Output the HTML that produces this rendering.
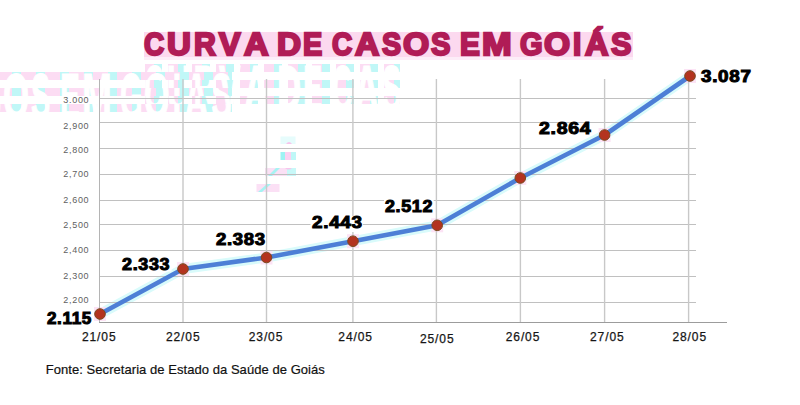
<!DOCTYPE html>
<html><head><meta charset="utf-8"><style>
html,body{margin:0;padding:0;background:#fff;}
body{width:800px;height:405px;position:relative;overflow:hidden;font-family:"Liberation Sans",sans-serif;}
.a{position:absolute;white-space:nowrap;line-height:1;}
#title span{position:absolute;top:27.5px;font-size:32px;font-weight:bold;color:#b01c56;-webkit-text-stroke:2.3px #b01c56;transform-origin:0 0;line-height:1;white-space:nowrap;}
.yl{font-size:9px;color:#606060;text-align:right;width:40px;left:49.3px;letter-spacing:0.7px;}
.xl{font-size:12px;color:#161616;width:60px;text-align:center;letter-spacing:0.9px;top:330.8px;-webkit-text-stroke:0.25px #161616;}
.v{font-size:16.5px;font-weight:bold;color:#000;letter-spacing:0.6px;-webkit-text-stroke:1px #000;transform-origin:0 0;}
#src{left:45.8px;top:362.6px;font-size:13px;color:#111;letter-spacing:0.05px;-webkit-text-stroke:0.2px #111;}
</style></head><body>
<div style="position:absolute;left:144px;top:31.5px;width:489px;height:25px;background:#fcd9ef"></div>
<div style="position:absolute;left:144px;top:56.5px;width:489px;height:3.5px;background:#fdedf8"></div>
<div id="title">
<span style="left:144.1px;transform:scaleX(0.875)">C</span>
<span style="left:166.8px;transform:scaleX(1.033)">U</span>
<span style="left:193.5px;transform:scaleX(0.943)">R</span>
<span style="left:219.0px;transform:scaleX(1.008)">V</span>
<span style="left:244.0px;transform:scaleX(1.064)">A</span>
<span style="left:277.1px;transform:scaleX(1.041)">D</span>
<span style="left:303.1px;transform:scaleX(0.900)">E</span>
<span style="left:332.1px;transform:scaleX(0.875)">C</span>
<span style="left:354.6px;transform:scaleX(1.052)">A</span>
<span style="left:382.1px;transform:scaleX(0.895)">S</span>
<span style="left:403.1px;transform:scaleX(1.052)">O</span>
<span style="left:431.0px;transform:scaleX(0.910)">S</span>
<span style="left:460.1px;transform:scaleX(0.930)">E</span>
<span style="left:482.0px;transform:scaleX(1.112)">M</span>
<span style="left:520.1px;transform:scaleX(0.908)">G</span>
<span style="left:543.8px;transform:scaleX(1.048)">O</span>
<span style="left:572.8px;transform:scaleX(0.929)">I</span>
<span style="left:584.7px;transform:scaleX(1.016)">Á</span>
<span style="left:611.3px;transform:scaleX(0.957)">S</span>
</div>
<svg width="800" height="405" style="position:absolute;left:0;top:0">
<defs>
<pattern id="gp" width="24" height="8" patternUnits="userSpaceOnUse"><rect width="24" height="8" fill="#fff"/><rect width="10" height="8" fill="#fcdcf3"/><rect x="10" width="8" height="8" fill="#c0f7f7"/></pattern>
<pattern id="gq" width="24" height="8" patternUnits="userSpaceOnUse" x="12"><rect width="24" height="8" fill="#fcdcf3"/><rect width="9" height="8" fill="#c0f7f7"/></pattern>
<clipPath id="cR"><rect x="145" y="64" width="255" height="8"/><rect x="145" y="80" width="255" height="8"/><rect x="145" y="96" width="255" height="8"/></clipPath>
<clipPath id="cL"><rect x="0" y="72" width="232" height="8"/><rect x="0" y="88" width="232" height="8"/><rect x="0" y="104" width="232" height="8"/></clipPath>
</defs>
<g clip-path="url(#cR)"><rect x="145" y="64" width="255" height="56" fill="url(#gp)"/>
<g fill="#fff" stroke="#fff" stroke-width="0.6" font-family="Liberation Sans" font-weight="bold" font-size="32"><text transform="translate(144.1,111) scale(0.875,2)">C</text><text transform="translate(166.8,111) scale(1.033,2)">U</text><text transform="translate(193.5,111) scale(0.943,2)">R</text><text transform="translate(219.0,111) scale(1.008,2)">V</text><text transform="translate(244.0,111) scale(1.064,2)">A</text><text transform="translate(277.1,111) scale(1.041,2)">D</text><text transform="translate(303.1,111) scale(0.900,2)">E</text><text transform="translate(332.1,111) scale(0.875,2)">C</text><text transform="translate(354.6,111) scale(1.052,2)">A</text><text transform="translate(382.1,111) scale(0.895,2)">S</text></g></g>
<g clip-path="url(#cL)"><rect x="0" y="72" width="232" height="52" fill="url(#gq)"/>
<g fill="#fff" stroke="#fff" stroke-width="0.6" font-family="Liberation Sans" font-weight="bold" font-size="32"><text transform="translate(-17.9,119) scale(0.895,2)">S</text><text transform="translate(3.1,119) scale(1.052,2)">O</text><text transform="translate(31.0,119) scale(0.910,2)">S</text><text transform="translate(60.1,119) scale(0.930,2)">E</text><text transform="translate(82.0,119) scale(1.112,2)">M</text><text transform="translate(120.1,119) scale(0.908,2)">G</text><text transform="translate(143.8,119) scale(1.048,2)">O</text><text transform="translate(172.8,119) scale(0.929,2)">I</text><text transform="translate(184.7,119) scale(1.016,2)">Á</text><text transform="translate(211.3,119) scale(0.957,2)">S</text></g></g>
<g>
<rect x="280.5" y="136.5" width="15" height="7.5" fill="#e6fcfc"/><path d="M286 144 Q289 140 292 144 Z" fill="#f7c4ec"/>
<rect x="280.5" y="152" width="4.5" height="8" fill="#9ef3f3"/><rect x="285" y="152" width="6" height="8" fill="#fbd2f1"/><rect x="291" y="152" width="5" height="8" fill="#bff7f7"/>
<rect x="265" y="168" width="22" height="8" fill="#fbe0f5"/><rect x="287" y="168" width="9" height="8" fill="#c8f8f8"/><path d="M268 176 L276 168 L280 168 L272 176 Z" fill="#a6f3f3"/><path d="M285 168 Q288.5 171 292 168 Z" fill="#f7c4ec"/>
<rect x="256.5" y="184" width="23" height="8" fill="#fbe0f5"/><path d="M258 192 L267 184 L271 184 L262 192 Z" fill="#a6f3f3"/>
</g>
</svg>
<svg width="800" height="405" style="position:absolute;left:0;top:0">
<polyline fill="none" stroke="#d9fbfb" stroke-width="10" stroke-linejoin="round" points="100,314 183,269 266.5,257.5 353,241.2 437.2,225.3 520.3,178 604.6,135 690,76"/>
<g fill="#fce3f5"><rect x="94.0" y="307.0" width="12" height="14"/><rect x="177.0" y="262.0" width="12" height="14"/><rect x="260.5" y="250.5" width="12" height="14"/><rect x="347.0" y="234.2" width="12" height="14"/><rect x="431.2" y="218.3" width="12" height="14"/><rect x="514.3" y="171.0" width="12" height="14"/><rect x="598.6" y="128.0" width="12" height="14"/><rect x="684.0" y="69.0" width="12" height="14"/></g>
<g stroke="#c0c0c0" stroke-width="1" shape-rendering="crispEdges"><line x1="99" y1="98.5" x2="696" y2="98.5"/><line x1="99" y1="122.5" x2="696" y2="122.5"/><line x1="99" y1="148.5" x2="696" y2="148.5"/><line x1="99" y1="174.5" x2="696" y2="174.5"/><line x1="99" y1="200.5" x2="696" y2="200.5"/><line x1="99" y1="224.5" x2="696" y2="224.5"/><line x1="99" y1="250.5" x2="696" y2="250.5"/><line x1="99" y1="276.5" x2="696" y2="276.5"/><line x1="99" y1="302.5" x2="696" y2="302.5"/></g>
<line x1="99.5" y1="79" x2="99.5" y2="322" stroke="#b4b4b4" stroke-width="1" shape-rendering="crispEdges"/>
<g stroke="#c8c8c8" stroke-width="1.4"><line x1="183.0" y1="79" x2="183.0" y2="322"/><line x1="266.5" y1="79" x2="266.5" y2="322"/><line x1="352.9" y1="79" x2="352.9" y2="322"/><line x1="436.4" y1="79" x2="436.4" y2="322"/><line x1="520.4" y1="79" x2="520.4" y2="322"/><line x1="604.6" y1="79" x2="604.6" y2="322"/><line x1="688.6" y1="79" x2="688.6" y2="322"/></g>
<line x1="99" y1="322.5" x2="727" y2="322.5" stroke="#9c9c9c" stroke-width="1.2" shape-rendering="crispEdges"/>
<g fill="#fff"><rect x="45.5" y="311.5" width="46.5" height="13"/><rect x="121.5" y="258" width="50" height="13.5"/><rect x="214.5" y="232.5" width="51.5" height="13"/><rect x="310.5" y="216" width="52.5" height="16"/><rect x="384" y="199.5" width="49.7" height="13"/><rect x="538" y="123" width="54.5" height="12.5"/><rect x="699.5" y="69.5" width="52.5" height="13"/></g>
<polyline fill="none" stroke="#4d7fd6" stroke-width="4.6" stroke-linejoin="round" points="100,314 183,269 266.5,257.5 353,241.2 437.2,225.3 520.3,178 604.6,135 690,76"/>
<g fill="#b3331f" stroke="#7a4a1e" stroke-width="1"><circle cx="100" cy="314" r="5.3"/><circle cx="183" cy="269" r="5.3"/><circle cx="266.5" cy="257.5" r="5.3"/><circle cx="353" cy="241.2" r="5.3"/><circle cx="437.2" cy="225.3" r="5.3"/><circle cx="520.3" cy="178" r="5.3"/><circle cx="604.6" cy="135" r="5.3"/><circle cx="690" cy="76" r="5.3"/></g>
</svg>
<div class="a yl" style="top:95.5px">3.000</div>
<div class="a yl" style="top:122px">2,900</div>
<div class="a yl" style="top:145.6px">2,800</div>
<div class="a yl" style="top:170.3px">2,700</div>
<div class="a yl" style="top:195.6px">2,600</div>
<div class="a yl" style="top:220.7px">2,500</div>
<div class="a yl" style="top:245.8px">2,400</div>
<div class="a yl" style="top:272.3px">2,300</div>
<div class="a yl" style="top:296.4px">2,200</div>
<div class="a xl" style="left:69.2px">21/05</div>
<div class="a xl" style="left:153.2px">22/05</div>
<div class="a xl" style="left:236.0px">23/05</div>
<div class="a xl" style="left:325.6px">24/05</div>
<div class="a xl" style="left:407.2px;top:333.1px">25/05</div>
<div class="a xl" style="left:493.0px">26/05</div>
<div class="a xl" style="left:577.3px">27/05</div>
<div class="a xl" style="left:659.7px">28/05</div>
<div class="a v" style="left:46.5px;top:310.0px;transform:scaleX(1.035)">2.115</div>
<div class="a v" style="left:122.4px;top:256.4px;transform:scaleX(1.089)">2.333</div>
<div class="a v" style="left:215.6px;top:231.0px;transform:scaleX(1.125)">2.383</div>
<div class="a v" style="left:311.5px;top:214.3px;transform:scaleX(1.145)">2.443</div>
<div class="a v" style="left:385.0px;top:197.9px;transform:scaleX(1.084)">2.512</div>
<div class="a v" style="left:539.2px;top:120.4px;transform:scaleX(1.182)">2.864</div>
<div class="a v" style="left:700.5px;top:67.9px;transform:scaleX(1.142)">3.087</div>
<div class="a" id="src">Fonte: Secretaria de Estado da Saúde de Goiás</div>
</body></html>
